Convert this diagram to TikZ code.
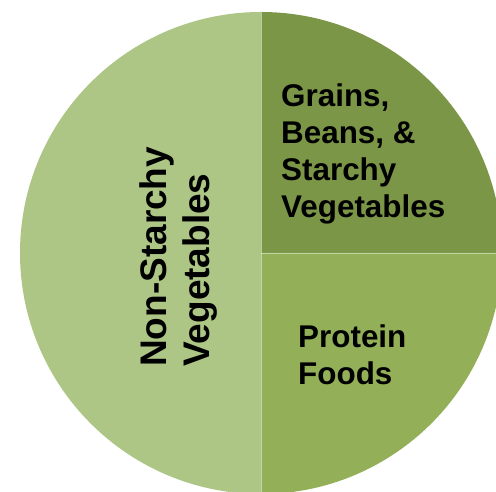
\documentclass[tikz,border=0pt]{standalone}
\usepackage{fontspec}
\setmainfont{Liberation Sans}
\definecolor{sliceLeft}{RGB}{173,198,133}
\definecolor{sliceTop}{RGB}{124,150,71}
\definecolor{sliceBot}{RGB}{147,175,87}
\tikzset{
  slice/.style={draw=white!70!sliceLeft, line width=0.6pt},
  rlabel/.style={inner sep=0pt, align=left, font=\bfseries\fontsize{31.4}{37}\selectfont},
  vlabel/.style={inner sep=0pt, align=left, font=\bfseries\fontsize{37}{43}\selectfont, rotate=90}
}
\begin{document}
\begin{tikzpicture}[x=1pt,y=1pt]
\useasboundingbox (0,0) rectangle (496,492);
\clip (0,0) rectangle (496,492);
\coordinate (c) at (261,239);
\fill[sliceLeft] (c) -- ++(90:241) arc[start angle=90,end angle=270,radius=241] -- cycle;
\fill[sliceTop] (c) -- ++(0:241) arc[start angle=0,end angle=90,radius=241] -- cycle;
\fill[sliceBot] (c) -- ++(-90:241) arc[start angle=-90,end angle=0,radius=241] -- cycle;
\draw[slice, draw opacity=0.6] (c) -- ++(90:241);
\draw[slice, draw opacity=0.6] (c) -- ++(-90:241);
\draw[slice, draw opacity=0.6] (c) -- ++(0:241);
\node[rlabel, anchor=base west] (grains) at (281,274) {Grains,\\Beans, \&\\Starchy\\Vegetables};
\node[rlabel, anchor=base west] (protein) at (298,107) {Protein\\Foods};
\node[vlabel, anchor=base west] (nonstarchy) at (209,125) {Non-Starchy\\Vegetables};
\end{tikzpicture}
\end{document}
